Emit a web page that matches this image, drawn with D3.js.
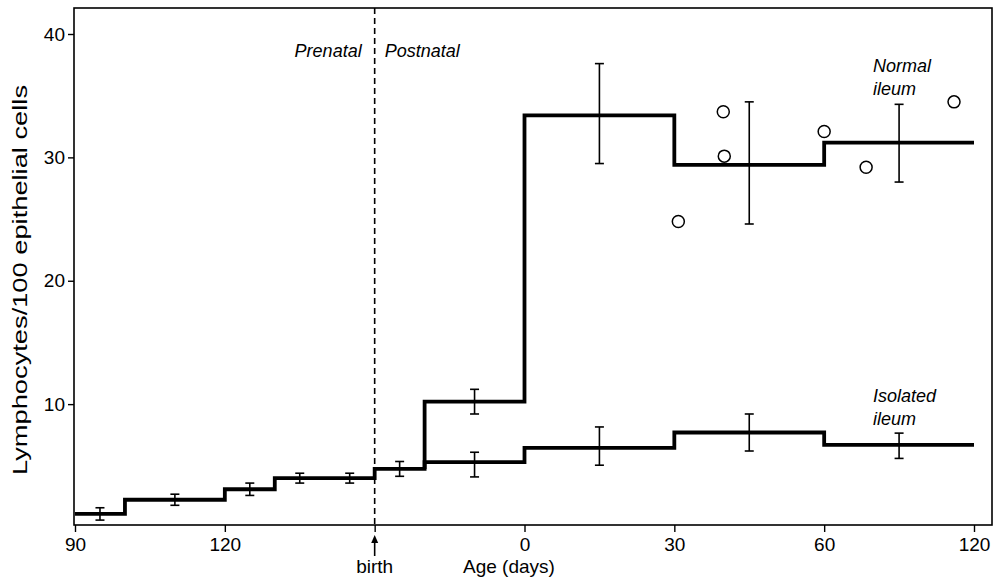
<!DOCTYPE html>
<html>
<head>
<meta charset="utf-8">
<script src="https://cdn.jsdelivr.net/npm/d3@7"></script>
<style>
  body { margin: 0; background: #fff; }
  svg { display: block; }
  text { font-family: "Liberation Sans", Arial, Helvetica, sans-serif; fill: #000; }
</style>
</head>
<body>
<svg id="chart" width="999" height="577"></svg>
<script>
// x is a running "chart day": 90..150 prenatal (birth at 150), then the
// postnatal part drawn on the same spacing, labelled 0, 30, 60, 120
var xTicks = [90, 120, 150, 180, 210, 240, 270];
var xTickLabels = ["90", "120", "", "0", "30", "60", "120"];
var yTicks = [10, 20, 30, 40];

// prenatal steps + isolated ileum (one line)
var isoEdges = [90, 100, 120, 130, 150, 160, 180, 210, 240, 270];
var isoValues = [1.1, 2.25, 3.1, 4.0, 4.75, 5.3, 6.45, 7.7, 6.7];
// error bars on that line: x, low, high
var isoErrX = [95, 110, 125, 135, 145, 155, 170, 195, 225, 255];
var isoErrLo = [0.6, 1.8, 2.6, 3.6, 3.6, 4.15, 4.1, 5.05, 6.2, 5.6];
var isoErrHi = [1.6, 2.7, 3.6, 4.4, 4.4, 5.35, 6.1, 8.15, 9.2, 7.65];

// normal ileum, branching off at 160
var normEdges = [160, 160, 180, 210, 240, 270];
var normValues = [4.75, 10.2, 33.4, 29.4, 31.2];
var normErrX = [170, 195, 225, 255];
var normErrLo = [9.2, 29.5, 24.6, 28.0];
var normErrHi = [11.2, 37.6, 34.5, 34.3];

// individual animals (open circles)
var dotX = [210.8, 219.8, 220, 240, 248.4, 266];
var dotY = [24.8, 33.7, 30.1, 32.1, 29.2, 34.5];

var svg = d3.select("#chart");
var frame = {left: 74, right: 992, top: 8, bottom: 525};

var x = d3.scaleLinear().domain([90, 270]).range([75, 974]);
var y = d3.scaleLinear().domain([0, 40]).range([527.5, 34]);

// frame
svg.append("rect")
    .attr("x", frame.left).attr("y", frame.top)
    .attr("width", frame.right - frame.left)
    .attr("height", frame.bottom - frame.top)
    .attr("fill", "none").attr("stroke", "#000").attr("stroke-width", 1.6);

// x axis
var xAxis = d3.axisBottom(x)
    .tickValues(xTicks)
    .tickSize(7)
    .tickPadding(6)
    .tickFormat(function(d, i){ return xTickLabels[i]; });
var gx = svg.append("g")
    .attr("transform", "translate(0," + frame.bottom + ")")
    .call(xAxis);
gx.select(".domain").remove();
gx.selectAll("line").attr("stroke", "#000").attr("stroke-width", 1.4);
gx.selectAll("text").style("font-size", "19px");

// y axis
var yAxis = d3.axisLeft(y).tickValues(yTicks).tickSize(6).tickPadding(3);
var gy = svg.append("g")
    .attr("transform", "translate(" + frame.left + ",0)")
    .call(yAxis);
gy.select(".domain").remove();
gy.selectAll("line").attr("stroke", "#000").attr("stroke-width", 1.4);
gy.selectAll("text").style("font-size", "19px");

// axis titles
svg.append("text")
    .attr("transform", "translate(27,280) rotate(-90)")
    .attr("text-anchor", "middle")
    .attr("textLength", 390)
    .attr("lengthAdjust", "spacingAndGlyphs")
    .style("font-size", "20px")
    .text("Lymphocytes/100 epithelial cells");

svg.append("text")
    .attr("x", x(150)).attr("y", 573)
    .attr("text-anchor", "middle")
    .style("font-size", "19px")
    .text("birth");

svg.append("text")
    .attr("x", 463).attr("y", 573)
    .style("font-size", "19px")
    .text("Age (days)");

// birth arrow
var bx = x(150);
svg.append("line")
    .attr("x1", bx).attr("x2", bx).attr("y1", 540).attr("y2", 556)
    .attr("stroke", "#000").attr("stroke-width", 1.6);
svg.append("path")
    .attr("d", "M" + bx + ",535 l-3.5,8 l7,0 z")
    .attr("fill", "#000");

// birth divider
svg.append("line")
    .attr("x1", bx).attr("x2", bx)
    .attr("y1", frame.top).attr("y2", frame.bottom)
    .attr("stroke", "#000").attr("stroke-width", 1.6)
    .attr("stroke-dasharray", "6,4");

svg.append("text")
    .attr("x", bx - 13).attr("y", 57)
    .attr("text-anchor", "end")
    .style("font-size", "18px").style("font-style", "italic")
    .text("Prenatal");
svg.append("text")
    .attr("x", bx + 10).attr("y", 57)
    .style("font-size", "18px").style("font-style", "italic")
    .text("Postnatal");

// step lines
var step = d3.line()
    .x(function(d){ return x(d[0]); })
    .y(function(d){ return y(d[1]); })
    .curve(d3.curveStepAfter);

function stepPoints(edges, values){
    var pts = values.map(function(v, i){ return [edges[i], v]; });
    pts.push([edges[edges.length - 1], values[values.length - 1]]);
    return pts;
}

svg.append("path")
    .datum(stepPoints(isoEdges, isoValues))
    .attr("d", step)
    .attr("fill", "none").attr("stroke", "#000")
    .attr("stroke-width", 3.8).attr("stroke-linejoin", "miter");

svg.append("path")
    .datum(stepPoints(normEdges, normValues))
    .attr("d", step)
    .attr("fill", "none").attr("stroke", "#000")
    .attr("stroke-width", 3.8).attr("stroke-linejoin", "miter");

// error bars
function errorBars(xs, lo, hi){
    var g = svg.append("g").attr("stroke", "#000").attr("stroke-width", 1.6);
    var cap = 4.5;
    xs.forEach(function(xv, i){
        var px = x(xv);
        g.append("line").attr("x1", px).attr("x2", px)
            .attr("y1", y(lo[i])).attr("y2", y(hi[i]));
        g.append("line").attr("x1", px - cap).attr("x2", px + cap)
            .attr("y1", y(lo[i])).attr("y2", y(lo[i]));
        g.append("line").attr("x1", px - cap).attr("x2", px + cap)
            .attr("y1", y(hi[i])).attr("y2", y(hi[i]));
    });
}
errorBars(isoErrX, isoErrLo, isoErrHi);
errorBars(normErrX, normErrLo, normErrHi);

// dots
svg.append("g").selectAll("circle")
    .data(dotX)
    .enter().append("circle")
    .attr("cx", function(d){ return x(d); })
    .attr("cy", function(d, i){ return y(dotY[i]); })
    .attr("r", 6)
    .attr("fill", "#fff").attr("stroke", "#000").attr("stroke-width", 1.5);

// series labels
function seriesLabel(lines, px, py){
    var t = svg.append("text")
        .attr("x", px).attr("y", py)
        .style("font-size", "18px").style("font-style", "italic");
    lines.forEach(function(s, i){
        t.append("tspan").attr("x", px).attr("dy", i === 0 ? 0 : 23).text(s);
    });
}
seriesLabel(["Normal", "ileum"], 873, 72);
seriesLabel(["Isolated", "ileum"], 873, 402);
</script>
</body>
</html>
